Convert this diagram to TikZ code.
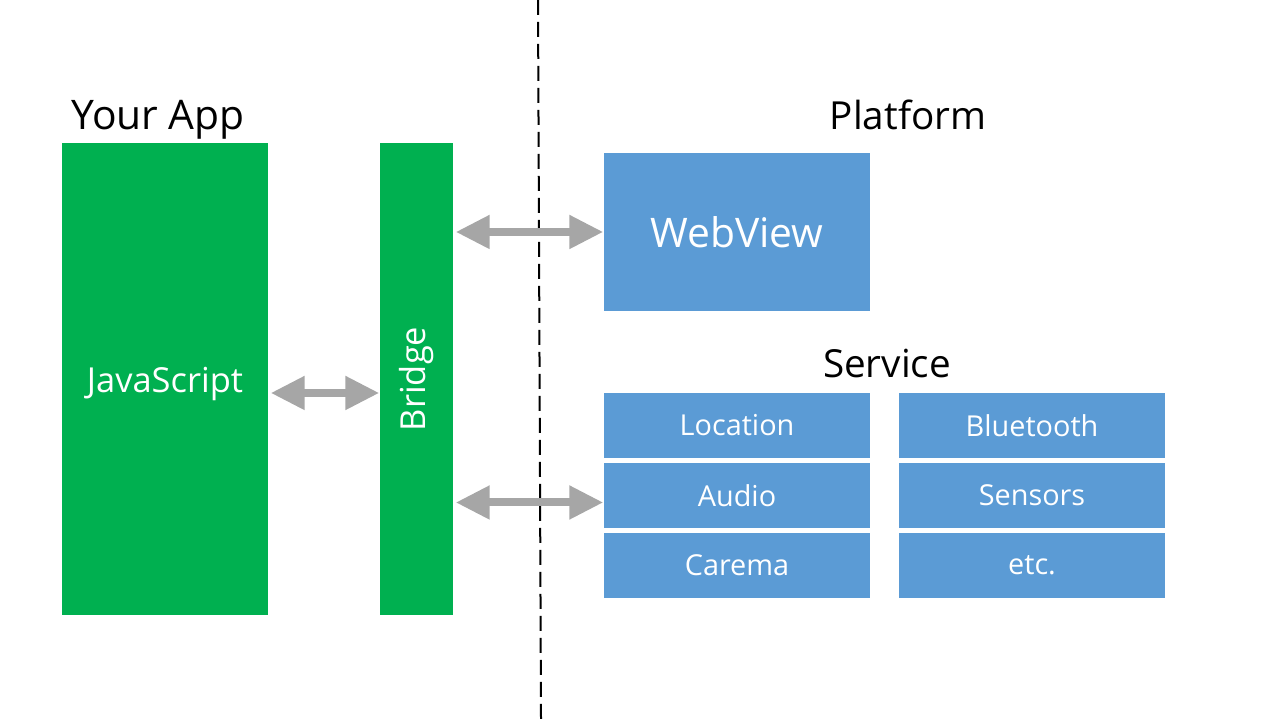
\documentclass[tikz,border=0pt]{standalone}
\usepackage{fontspec}
\setmainfont{Open Sans}
\usetikzlibrary{arrows.meta}
\definecolor{appgreen}{HTML}{00B050}
\definecolor{platblue}{HTML}{5B9BD5}
\definecolor{arrowgray}{HTML}{A6A6A6}
\begin{document}
\begin{tikzpicture}[
every node/.style={inner sep=0pt},
title/.style={font=\fontsize{11}{13}\selectfont, text=black},
appbox/.style={fill=appgreen, text=white, font=\fontsize{9.8}{11}\selectfont},
platbox/.style={fill=platblue, text=white, minimum width=2.66cm},
servicebox/.style={platbox, minimum height=0.65cm, font=\fontsize{8.2}{10}\selectfont},
biarrow/.style={arrowgray, line width=0.08cm,
    {Triangle[length=0.34cm,width=0.32cm]}-{Triangle[length=0.34cm,width=0.32cm]}}
]
    \useasboundingbox (0,0) rectangle (12.8,7.2);

    % Divider
    \draw[black, line width=0.02cm, dash pattern=on 0.15cm off 0.07cm] (5.38,7.2) -- (5.41,0);

    % Titles
    \node[title, font=\fontsize{11.6}{13}\selectfont] (apptitle) at (1.58,6.0) {Your App};
    \node[title] (plattitle) at (9.08,6.05) {Platform};
    \node[title] (servtitle) at (8.87,3.56) {Service};

    % App side
    \node[appbox, minimum width=2.06cm, minimum height=4.72cm] (js) at (1.65,3.41) {};
    \node[appbox] (jslabel) at ([yshift=-0.05cm]js.center) {JavaScript};
    \node[appbox, minimum width=0.73cm, minimum height=4.72cm] (bridge) at (4.165,3.41) {};
    \node[appbox, rotate=90] (bridgelabel) at (bridge.center) {Bridge};

    % Platform side
    \node[platbox, minimum height=1.58cm, font=\fontsize{11.6}{13}\selectfont] (webview) at (7.37,4.88) {WebView};

    \foreach \name/\txt/\x/\y in {loc/Location/7.37/2.945, audio/Audio/7.37/2.245, cam/Carema/7.37/1.545,
        bt/Bluetooth/10.32/2.945, sens/Sensors/10.32/2.245, etc/etc./10.32/1.545} {
        \node[servicebox] (\name) at (\x,\y) {\txt};
    }

    % Connections
    \draw[biarrow] ([xshift=0.02cm]bridge.east |- webview.west) -- (webview.west);
    \draw[biarrow] ([xshift=0.02cm,yshift=-0.14cm]js.east) -- ([yshift=-0.14cm]js.east -| bridge.west);
    \draw[biarrow] ([xshift=0.02cm,yshift=-0.07cm]bridge.east |- audio.west) -- ([yshift=-0.07cm]audio.west);

\end{tikzpicture}
\end{document}
